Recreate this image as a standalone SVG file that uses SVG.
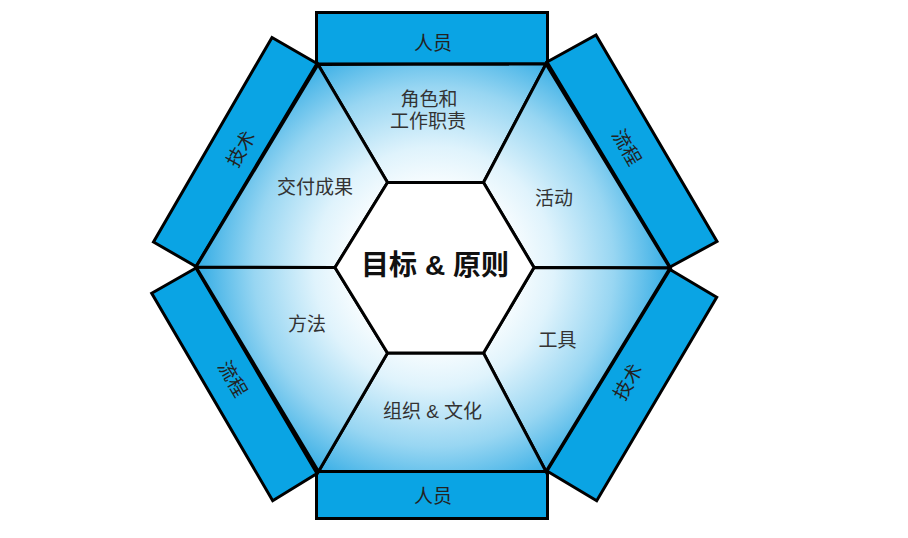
<svg xmlns="http://www.w3.org/2000/svg" width="908" height="538" viewBox="0 0 908 538">
<defs>
<radialGradient id="seg" gradientUnits="userSpaceOnUse" cx="434" cy="267" r="240">
<stop offset="0.3" stop-color="#ffffff"/>
<stop offset="0.5" stop-color="#dff3fc"/>
<stop offset="0.75" stop-color="#98d6f2"/>
<stop offset="1" stop-color="#2eaae4"/>
</radialGradient>
<style>
.bar{fill:#0aa4e4;stroke:#000;stroke-width:3;stroke-linejoin:miter}
.seg{fill:url(#seg);stroke:#000;stroke-width:3;stroke-linejoin:miter}
.core{fill:#fff;stroke:#000;stroke-width:3}
.t{font-family:"Liberation Sans","Noto Sans CJK SC",sans-serif;font-size:19px;fill:#333;text-anchor:middle;dominant-baseline:central}
.bt{font-family:"Liberation Sans","Noto Sans CJK SC",sans-serif;font-size:19px;fill:#222;text-anchor:middle;dominant-baseline:central}
.ct{font-family:"Liberation Sans","Noto Sans CJK SC",sans-serif;font-size:28px;font-weight:bold;fill:#111;text-anchor:middle;dominant-baseline:central}
</style>
</defs>
<rect width="908" height="538" fill="#fff"/>

<g id="bar-people-top"><rect class="bar" x="316.5" y="12.5" width="231" height="51.5"/><text class="bt" x="433" y="43">人员</text></g>
<g id="bar-people-bottom"><rect class="bar" x="316.5" y="471.5" width="231" height="47"/><text class="bt" x="433" y="496">人员</text></g>
<g id="bar-tech-left"><polygon class="bar" points="317,63.5 272,37.5 153.5,242 196,266.5"/><text class="bt" transform="translate(241,149) rotate(-60)">技术</text></g>
<g id="bar-process-right"><polygon class="bar" points="547,62 596,35 717,241.5 670,267"/><text class="bt" transform="translate(626.5,147.5) rotate(60)">流程</text></g>
<g id="bar-process-left"><polygon class="bar" points="196,268 151.7,293.3 272.7,500.7 317,473.5"/><text class="bt" transform="translate(232.5,379) rotate(60)">流程</text></g>
<g id="bar-tech-right"><polygon class="bar" points="670,269.5 716.7,297.3 596.7,500.7 547,471"/><text class="bt" transform="translate(628,382) rotate(-60)">技术</text></g>

<g id="seg-roles"><polygon class="seg" points="318,64.5 546,64 483.5,182.5 387.5,182.5"/><text class="t" x="429" y="99">角色和</text><text class="t" x="428" y="121">工作职责</text></g>
<g id="seg-activities"><polygon class="seg" points="546,64 670,268 534,267.5 483.5,182.5"/><text class="t" x="554" y="198">活动</text></g>
<g id="seg-tools"><polygon class="seg" points="670,268 546,471.5 483.5,353 534,267.5"/><text class="t" x="557.5" y="340">工具</text></g>
<g id="seg-org"><polygon class="seg" points="546,471.5 318.5,471.5 387.5,353 483.5,353"/><text class="t" x="432.5" y="411">组织 &amp; 文化</text></g>
<g id="seg-methods"><polygon class="seg" points="318.5,471.5 196,267 335,267.5 387.5,353"/><text class="t" x="307" y="324">方法</text></g>
<g id="seg-deliverables"><polygon class="seg" points="196,267 318,64.5 387.5,182.5 335,267.5"/><text class="t" x="315" y="187">交付成果</text></g>
<g id="center"><polygon class="core" points="387.5,182.5 483.5,182.5 534,267.5 483.5,353 387.5,353 335,267.5"/><text class="ct" x="435" y="265">目标 &amp; 原则</text></g>
</svg>
